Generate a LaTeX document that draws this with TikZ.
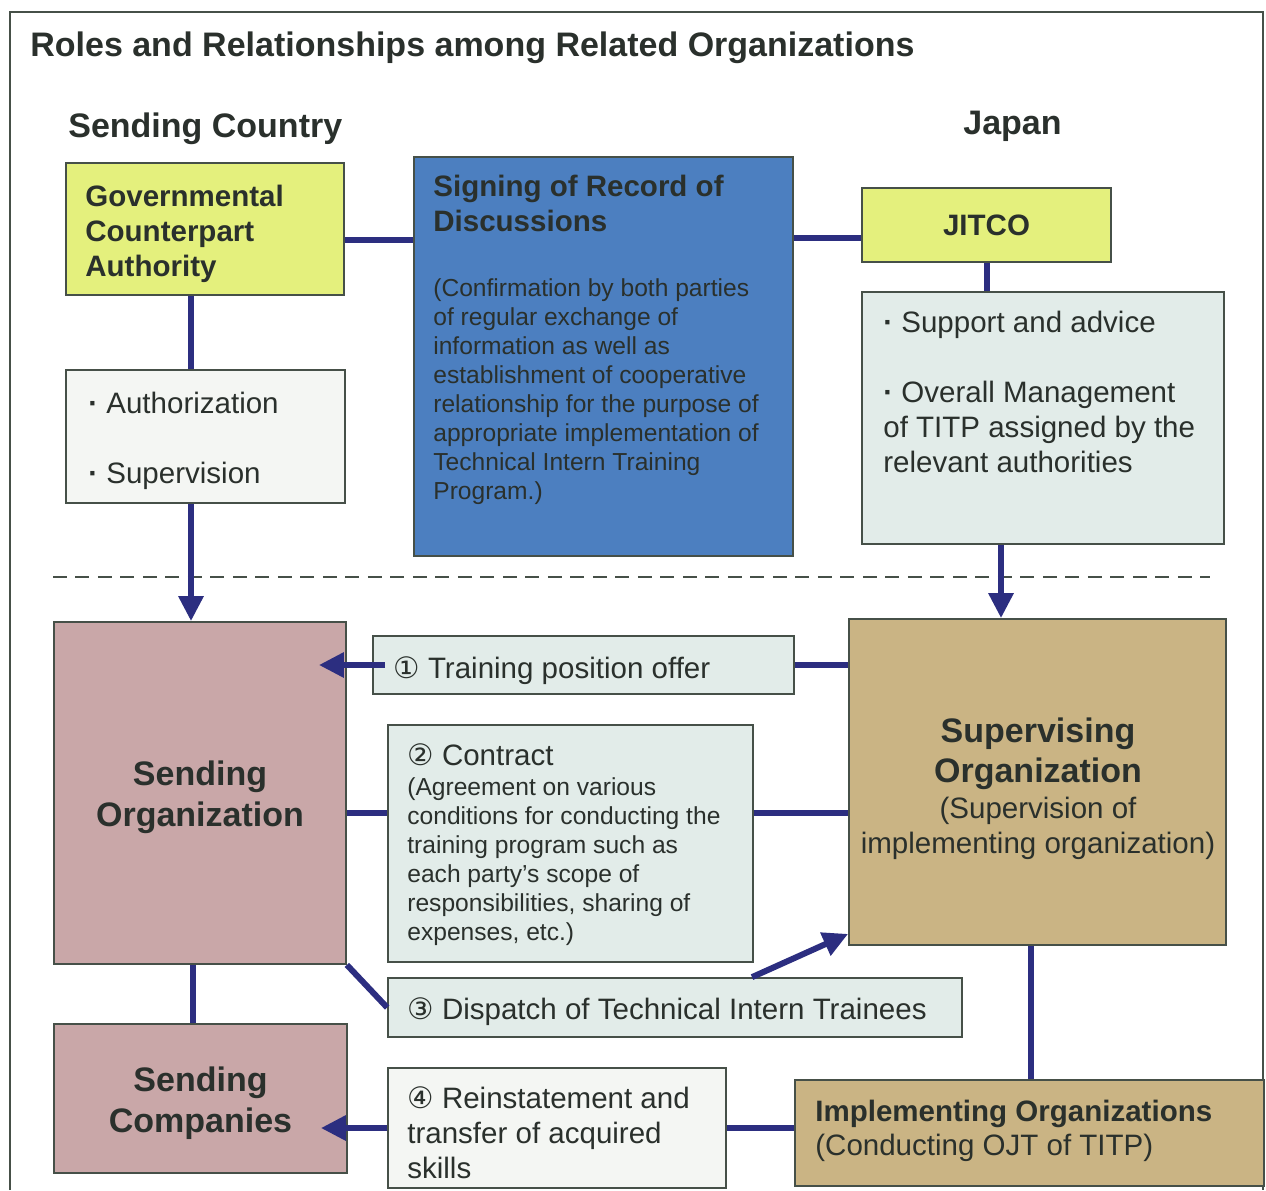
\documentclass[tikz,border=0pt]{standalone}
\usepackage{fontspec}
\setmainfont{Liberation Sans}
\newfontfamily\circfnt{DejaVu Sans}
\usetikzlibrary{arrows.meta,fit,calc}

\definecolor{ink}{RGB}{42,48,44}
\definecolor{edge}{RGB}{70,80,72}
\definecolor{linkblue}{RGB}{44,46,128}
\definecolor{govfill}{RGB}{228,240,125}
\definecolor{rodfill}{RGB}{76,127,192}
\definecolor{sendfill}{RGB}{201,167,168}
\definecolor{supfill}{RGB}{202,180,132}
\definecolor{notefill}{RGB}{226,236,233}
\definecolor{paperfill}{RGB}{244,246,243}

\newcommand\bigfnt{\fontsize{19.35}{23.3}\selectfont\bfseries}
\newcommand\boldfnt{\fontsize{16.8}{19.9}\selectfont\bfseries}
\newcommand\bodyfnt{\fontsize{16.8}{19.9}\selectfont}
\newcommand\notefnt{\fontsize{14}{16.5}\selectfont}
\newcommand\dotmark{{\bfseries·}~}

\tikzset{
	box/.style={draw=edge, line width=1pt, inner sep=0pt},
	txt/.style={anchor=north west, inner sep=0pt, align=left, text=ink},
	link/.style={draw=linkblue, line width=0.12cm},
	tip/.style={-{Triangle[width=0.48cm,length=0.5cm]}},
}

\begin{document}
\begin{tikzpicture}[x=0.02cm, y=-0.02cm]
		\useasboundingbox (0,0) rectangle (1266,1190);
		
		% Frame and headings
		\draw[edge, line width=1pt] (10,1190) -- (10,12) -- (1263,12) -- (1263,1190);
		\node[txt, font=\bigfnt] (title) at (30,32) {Roles and Relationships among Related Organizations};
		\node[txt, font=\bigfnt] (sendhd) at (68,113) {Sending Country};
		\node[txt, font=\bigfnt] (japanhd) at (963,111) {Japan};
		
		% Upper boxes
		\node[box, fill=govfill, fit={(66,163) (344,295)}] (gov) {};
		\node[box, fill=rodfill, fit={(414,157) (793,556)}] (rod) {};
		\node[box, fill=govfill, fit={(862,188) (1111,262)}] (jitco) {};
		\node[box, fill=paperfill, fit={(66,370) (345,503)}] (auth) {};
		\node[box, fill=notefill, fit={(862,292) (1224,544)}] (supp) {};
		
		\node[txt, font=\boldfnt] (govtxt) at (85,185) {Governmental\\Counterpart\\Authority};
		\node[txt, font=\boldfnt] (rodhd) at (433,175) {Signing of Record of\\Discussions};
		\node[txt, font=\notefnt] (rodtxt) at (433,278) {(Confirmation by both parties\\of regular exchange of\\information as well as\\establishment of cooperative\\relationship for the purpose of\\appropriate implementation of\\Technical Intern Training\\Program.)};
		\node[txt, font=\boldfnt, anchor=center] (jitcotxt) at (jitco) {JITCO};
		\node[txt, font=\bodyfnt] (authtxt) at (88,392) {\dotmark Authorization\\[0.7cm]\dotmark Supervision};
		\node[txt, font=\bodyfnt] (supptxt) at (883,311) {\dotmark Support and advice\\[0.69cm]\dotmark Overall Management\\of TITP assigned by the\\relevant authorities};
		
		% Border between the two countries
		\draw[edge, line width=1.2pt, dash pattern=on 0.28cm off 0.17cm] (53,577) -- (1210,577);
		
		% Lower boxes
		\node[box, fill=sendfill, fit={(54,622) (346,964)}] (sorg) {};
		\node[box, fill=sendfill, fit={(54,1024) (347,1173)}] (scomp) {};
		\node[box, fill=notefill, fit={(373,636) (794,694)}] (offer) {};
		\node[box, fill=notefill, fit={(388,725) (753,962)}] (contract) {};
		\node[box, fill=notefill, fit={(388,978) (962,1037)}] (dispatch) {};
		\node[box, fill=paperfill, fit={(388,1068) (726,1188)}] (reinst) {};
		\node[box, fill=supfill, fit={(849,619) (1226,945)}] (sup) {};
		\node[box, fill=supfill, fit={(795,1080) (1264,1186)}] (impl) {};
		
		\node[txt, font=\bigfnt, anchor=center, align=center] (sorgtxt) at ($(sorg)+(0,4)$) {Sending\\Organization};
		\node[txt, font=\bigfnt, anchor=center, align=center] (scomptxt) at ($(scomp)+(0,5)$) {Sending\\Companies};
		\node[txt, font=\bodyfnt] (offertxt) at (393,656) {{\circfnt ①} Training position offer};
		\node[txt, font=\bodyfnt] (contrhd) at (407,743) {{\circfnt ②} Contract};
		\node[txt, font=\notefnt] (contrtxt) at (407,777) {(Agreement on various\\conditions for conducting the\\training program such as\\each party’s scope of\\responsibilities, sharing of\\expenses, etc.)};
		\node[txt, font=\bodyfnt] (disptxt) at (407,997) {{\circfnt ③} Dispatch of Technical Intern Trainees};
		\node[txt, font=\bodyfnt] (reintxt) at (407,1086) {{\circfnt ④} Reinstatement and\\transfer of acquired\\skills};
		\node[txt, font=\bigfnt, anchor=north, align=center] (supname) at (1038,717) {Supervising\\Organization};
		\node[txt, font=\bodyfnt, anchor=north, align=center] (supnote) at (1038,797) {(Supervision of\\implementing organization)};
		\node[txt, font=\boldfnt] (implname) at (815,1100) {Implementing Organizations};
		\node[txt, font=\bodyfnt] (implnote) at (815,1134) {(Conducting OJT of TITP)};
		
		% Links above the border
		\draw[link] (gov.east |- 0,240) -- (rod.west |- 0,240);
		\draw[link] (rod.east |- 0,238) -- (jitco.west |- 0,238);
		\draw[link] (191,0 |- gov.south) -- (191,0 |- auth.north);
		\draw[link, tip] (191,0 |- auth.south) -- (191,0 |- sorg.north);
		\draw[link] (jitco.south) -- (jitco.south |- supp.north);
		\draw[link, tip] (1001,0 |- supp.south) -- (1001,0 |- sup.north);
		
		% Links below the border
		\draw[link] (offer.east) -- (offer.east -| sup.west);
		\draw[link, tip] ($(offer.west)+(13,0)$) -- ($(offer.west -| sorg.east)+(-28,0)$);
		\draw[link] (sorg.east |- 0,813) -- (contract.west |- 0,813);
		\draw[link] (contract.east |- 0,813) -- (sup.west |- 0,813);
		\draw[link] (sorg.south east) -- (dispatch.west);
		\draw[link, tip] (752,0 |- dispatch.north) -- ($(sup.south west)+(0,-12)$);
		\draw[link] (193,0 |- sorg.south) -- (193,0 |- scomp.north);
		\draw[link] (1031,0 |- sup.south) -- (1031,0 |- impl.north);
		\draw[link] (impl.west |- reinst.west) -- (reinst.east);
		\draw[link, tip] (reinst.west) -- ($(reinst.west -| scomp.east)+(-27,0)$);
	\end{tikzpicture}
\end{document}
